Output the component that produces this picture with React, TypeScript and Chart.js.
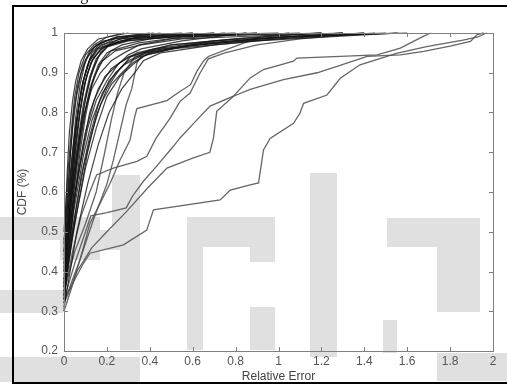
import React, { useEffect, useRef } from "react";
import { Chart, registerables } from "chart.js";

Chart.register(...registerables);

type P = [number, number];

const xTickLabels = ["0", "0.2", "0.4", "0.6", "0.8", "1", "1.2", "1.4", "1.6", "1.8", "2"];
const yTickLabels = ["0.2", "0.3", "0.4", "0.5", "0.6", "0.7", "0.8", "0.9", "1"];
const xAxisTitle = "Relative Error";
const yAxisTitle = "CDF (%)";
const captionFragment = "Fig";

// outlying curves
const curveA: P[] = [[0, 0.32], [0.04, 0.37], [0.075, 0.43], [0.12, 0.52], [0.153, 0.555], [0.215, 0.622], [0.261, 0.68], [0.308, 0.731], [0.33, 0.79], [0.34, 0.81], [0.48, 0.83], [0.53, 0.849], [0.59, 0.87], [0.62, 0.904], [0.65, 0.929], [0.673, 0.941], [0.775, 0.962], [0.915, 0.99], [1.05, 1]];
const curveB: P[] = [[0, 0.34], [0.04, 0.45], [0.08, 0.54], [0.12, 0.6], [0.152, 0.643], [0.23, 0.66], [0.34, 0.677], [0.386, 0.69], [0.43, 0.736], [0.495, 0.786], [0.541, 0.828], [0.588, 0.849], [0.635, 0.9], [0.673, 0.935], [0.75, 0.95], [0.9, 0.97], [1.1, 0.985], [1.4, 1]];
const curveC: P[] = [[0, 0.33], [0.05, 0.42], [0.1, 0.5], [0.125, 0.54], [0.2, 0.548], [0.29, 0.56], [0.32, 0.59], [0.37, 0.627], [0.43, 0.664], [0.51, 0.715], [0.541, 0.736], [0.6, 0.77], [0.681, 0.816], [0.79, 0.841], [0.868, 0.887], [0.93, 0.908], [1.07, 0.929], [1.086, 0.937], [1.46, 0.945], [1.568, 0.962], [1.677, 0.992], [1.71, 1]];
const curveD: P[] = [[0, 0.3], [0.06, 0.4], [0.13, 0.46], [0.2, 0.5], [0.29, 0.55], [0.39, 0.61], [0.48, 0.66], [0.6, 0.685], [0.68, 0.7], [0.697, 0.736], [0.712, 0.803], [0.79, 0.841], [0.868, 0.858], [1.023, 0.883], [1.18, 0.9], [1.273, 0.916], [1.413, 0.941], [1.568, 0.945], [1.677, 0.954], [1.8, 0.967], [1.895, 0.979], [1.926, 0.996], [1.957, 1]];
const curveE: P[] = [[0, 0.33], [0.05, 0.38], [0.09, 0.42], [0.121, 0.446], [0.277, 0.467], [0.386, 0.504], [0.417, 0.555], [0.728, 0.58], [0.775, 0.605], [0.868, 0.618], [0.907, 0.623], [0.93, 0.706], [0.961, 0.735], [1.07, 0.773], [1.1, 0.798], [1.117, 0.823], [1.226, 0.844], [1.288, 0.886], [1.38, 0.92], [1.55, 0.949], [1.69, 0.966], [1.86, 0.982], [1.93, 0.99], [1.97, 1]];
const curveM1: P[] = [[0, 0.32], [0.04, 0.38], [0.075, 0.43], [0.137, 0.53], [0.2, 0.62], [0.23, 0.68], [0.26, 0.75], [0.29, 0.82], [0.316, 0.86], [0.34, 0.925], [0.37, 0.95], [0.5, 0.97], [0.9, 0.99], [1.2, 1]];
const curveM2: P[] = [[0, 0.35], [0.05, 0.45], [0.1, 0.52], [0.15, 0.6], [0.19, 0.7], [0.22, 0.78], [0.25, 0.85], [0.28, 0.9], [0.33, 0.94], [0.45, 0.96], [0.8, 0.98], [1.3, 1]];

// dense bundle of curves near the origin
const clusterCurves: P[][] = [
  [[0, 0.45], [0.008, 0.55], [0.015, 0.65], [0.025, 0.75], [0.04, 0.83], [0.055, 0.88], [0.08, 0.93], [0.11, 0.96], [0.16, 0.985], [0.3, 1]],
  [[0, 0.4], [0.01, 0.5], [0.02, 0.6], [0.03, 0.7], [0.045, 0.8], [0.065, 0.87], [0.09, 0.92], [0.12, 0.955], [0.18, 0.98], [0.35, 0.995], [0.55, 1]],
  [[0, 0.36], [0.012, 0.48], [0.025, 0.6], [0.04, 0.7], [0.055, 0.79], [0.075, 0.87], [0.1, 0.93], [0.14, 0.965], [0.22, 0.985], [0.45, 1]],
  [[0, 0.33], [0.015, 0.46], [0.028, 0.57], [0.045, 0.69], [0.06, 0.78], [0.08, 0.86], [0.11, 0.92], [0.15, 0.96], [0.25, 0.99], [0.6, 1]],
  [[0, 0.5], [0.01, 0.58], [0.02, 0.66], [0.035, 0.76], [0.05, 0.84], [0.07, 0.9], [0.1, 0.945], [0.14, 0.97], [0.2, 0.99], [0.28, 1]],
  [[0, 0.42], [0.015, 0.52], [0.03, 0.63], [0.05, 0.74], [0.07, 0.82], [0.09, 0.88], [0.12, 0.93], [0.16, 0.96], [0.26, 0.985], [0.5, 0.995], [0.8, 1]],
  [[0, 0.3], [0.01, 0.4], [0.022, 0.52], [0.035, 0.63], [0.05, 0.73], [0.068, 0.81], [0.09, 0.88], [0.12, 0.935], [0.17, 0.97], [0.3, 0.99], [0.7, 1]],
  [[0, 0.38], [0.02, 0.5], [0.035, 0.6], [0.055, 0.71], [0.075, 0.8], [0.1, 0.88], [0.13, 0.93], [0.18, 0.965], [0.3, 0.985], [0.6, 0.995], [1.0, 1]],
  [[0, 0.47], [0.012, 0.56], [0.025, 0.66], [0.04, 0.76], [0.058, 0.84], [0.08, 0.9], [0.11, 0.94], [0.15, 0.97], [0.24, 0.99], [0.4, 1]],
  [[0, 0.35], [0.018, 0.47], [0.032, 0.58], [0.05, 0.69], [0.07, 0.79], [0.095, 0.87], [0.125, 0.925], [0.17, 0.96], [0.27, 0.98], [0.5, 0.99], [1.2, 1]],
  [[0, 0.44], [0.02, 0.55], [0.04, 0.66], [0.06, 0.75], [0.085, 0.84], [0.11, 0.9], [0.14, 0.94], [0.19, 0.965], [0.32, 0.985], [0.7, 1]],
  [[0, 0.32], [0.02, 0.44], [0.04, 0.57], [0.06, 0.68], [0.08, 0.77], [0.105, 0.85], [0.135, 0.91], [0.17, 0.95], [0.22, 0.975], [0.35, 0.99], [0.9, 1]],
  [[0, 0.41], [0.025, 0.53], [0.045, 0.64], [0.068, 0.74], [0.09, 0.82], [0.12, 0.89], [0.15, 0.935], [0.2, 0.965], [0.3, 0.98], [0.5, 0.99], [1.1, 1]],
  [[0, 0.37], [0.022, 0.5], [0.045, 0.62], [0.07, 0.73], [0.095, 0.82], [0.125, 0.89], [0.16, 0.94], [0.21, 0.97], [0.34, 0.99], [0.6, 1]],
  [[0, 0.48], [0.018, 0.58], [0.035, 0.68], [0.055, 0.77], [0.08, 0.85], [0.1, 0.9], [0.13, 0.95], [0.17, 0.975], [0.25, 0.99], [0.42, 1]],
  [[0, 0.34], [0.03, 0.48], [0.05, 0.59], [0.075, 0.7], [0.1, 0.79], [0.13, 0.87], [0.165, 0.92], [0.22, 0.955], [0.35, 0.975], [0.55, 0.99], [0.85, 1]],
  [[0, 0.39], [0.028, 0.52], [0.055, 0.64], [0.08, 0.74], [0.105, 0.82], [0.14, 0.89], [0.18, 0.93], [0.24, 0.955], [0.36, 0.97], [0.55, 0.985], [1.0, 0.995], [1.3, 1]],
  [[0, 0.43], [0.03, 0.56], [0.06, 0.68], [0.09, 0.78], [0.12, 0.86], [0.16, 0.92], [0.2, 0.95], [0.27, 0.97], [0.4, 0.985], [0.75, 1]],
  [[0, 0.36], [0.03, 0.5], [0.06, 0.62], [0.09, 0.72], [0.12, 0.8], [0.16, 0.86], [0.22, 0.91], [0.3, 0.94], [0.42, 0.96], [0.7, 0.98], [1.0, 0.99], [1.5, 1]],
  [[0, 0.4], [0.035, 0.54], [0.07, 0.66], [0.1, 0.75], [0.14, 0.83], [0.19, 0.89], [0.26, 0.925], [0.34, 0.95], [0.5, 0.97], [0.8, 0.985], [1.2, 1]],
  [[0, 0.33], [0.04, 0.5], [0.08, 0.64], [0.12, 0.74], [0.16, 0.82], [0.21, 0.88], [0.28, 0.92], [0.35, 0.94], [0.5, 0.96], [0.9, 0.98], [1.56, 1]],
  [[0, 0.38], [0.045, 0.55], [0.09, 0.69], [0.13, 0.78], [0.18, 0.85], [0.24, 0.9], [0.3, 0.93], [0.38, 0.95], [0.6, 0.97], [1.0, 0.99], [1.4, 1]],
  [[0, 0.35], [0.05, 0.52], [0.1, 0.66], [0.15, 0.76], [0.2, 0.84], [0.26, 0.89], [0.32, 0.92], [0.38, 0.945], [0.55, 0.965], [0.9, 0.985], [1.3, 1]],
  [[0, 0.31], [0.06, 0.5], [0.11, 0.62], [0.16, 0.72], [0.21, 0.8], [0.27, 0.86], [0.33, 0.9], [0.37, 0.93], [0.45, 0.95], [0.7, 0.97], [1.1, 0.99], [1.55, 1]],
  [[0, 0.42], [0.04, 0.56], [0.08, 0.68], [0.11, 0.76], [0.15, 0.83], [0.2, 0.88], [0.25, 0.92], [0.3, 0.945], [0.36, 0.96], [0.55, 0.98], [0.85, 1]],
  [[0, 0.37], [0.05, 0.54], [0.09, 0.66], [0.13, 0.75], [0.17, 0.82], [0.22, 0.87], [0.27, 0.9], [0.32, 0.925], [0.4, 0.95], [0.65, 0.975], [1.05, 0.99], [1.6, 1]],
  [[0, 0.45], [0.03, 0.58], [0.06, 0.7], [0.09, 0.79], [0.13, 0.86], [0.17, 0.9], [0.22, 0.93], [0.28, 0.95], [0.35, 0.97], [0.5, 0.985], [0.9, 1]],
  [[0, 0.34], [0.04, 0.49], [0.08, 0.61], [0.11, 0.7], [0.15, 0.79], [0.2, 0.86], [0.26, 0.91], [0.31, 0.94], [0.4, 0.955], [0.6, 0.97], [1.0, 0.985], [1.45, 1]],
];

const outlierCurves: P[][] = [curveA, curveB, curveC, curveD, curveE, curveM1, curveM2];

const decorPlugin = {
  id: "decor",
  beforeDraw(chart: any) {
    const ctx: CanvasRenderingContext2D = chart.ctx;
    ctx.save();
    ctx.fillStyle = "#e0e0e0";
    const shapes: number[][] = [
      [0, 217, 100, 23], [60, 240, 40, 20], [112, 175, 28, 62],
      [73, 230, 67, 20], [120, 250, 20, 100], [0, 290, 63, 23],
      [0, 357, 140, 25],
      [187, 217, 88, 30], [187, 247, 16, 103], [250, 247, 25, 15], [250, 307, 25, 43],
      [310, 173, 27, 184],
      [387, 218, 93, 29], [437, 247, 43, 65], [383, 320, 14, 33],
      [437, 353, 70, 28],
    ];
    for (const [x, y, w, h] of shapes) ctx.fillRect(x, y, w, h);
    ctx.restore();
  },
  afterDraw(chart: any) {
    const ctx: CanvasRenderingContext2D = chart.ctx;
    const { left, top, right, bottom } = chart.chartArea;
    const xs = chart.scales.x;
    const ys = chart.scales.y;
    ctx.save();
    ctx.strokeStyle = "#808080";
    ctx.lineWidth = 1;
    ctx.strokeRect(Math.round(left) + 0.5, Math.round(top) + 0.5, Math.round(right - left), Math.round(bottom - top));
    ctx.beginPath();
    const tl = 4;
    xs.ticks.forEach((t: any) => {
      const px = Math.round(xs.getPixelForValue(t.value)) + 0.5;
      ctx.moveTo(px, bottom); ctx.lineTo(px, bottom - tl);
      ctx.moveTo(px, top); ctx.lineTo(px, top + tl);
    });
    ys.ticks.forEach((t: any) => {
      const py = Math.round(ys.getPixelForValue(t.value)) + 0.5;
      ctx.moveTo(left, py); ctx.lineTo(left + tl, py);
      ctx.moveTo(right, py); ctx.lineTo(right - tl, py);
    });
    ctx.stroke();

    ctx.fillStyle = "#444";
    ctx.font = '12px "Liberation Sans", Arial, sans-serif';
    ctx.textAlign = "center";
    ctx.textBaseline = "middle";
    ctx.fillText(xAxisTitle, (left + right) / 2, 377);
    ctx.save();
    ctx.translate(23, (top + bottom) / 2);
    ctx.rotate(-Math.PI / 2);
    ctx.fillText(yAxisTitle, 0, 0);
    ctx.restore();

    ctx.strokeStyle = "#000";
    ctx.lineWidth = 2;
    ctx.strokeRect(13, 6, 500, 377);

    ctx.fillStyle = "#222";
    ctx.font = '16px "Liberation Serif", "Times New Roman", serif';
    ctx.textAlign = "left";
    ctx.textBaseline = "alphabetic";
    ctx.fillText(captionFragment, 67, 0);
    ctx.restore();
  },
};

export default function App() {
  const ref = useRef<HTMLCanvasElement | null>(null);
  useEffect(() => {
    document.body.style.margin = "0";
    if (!ref.current) return;
    const mk = (pts: P[], color: string, width: number) => ({
      data: pts.map(([x, y]) => ({ x, y })),
      borderColor: color,
      borderWidth: width,
      pointRadius: 0,
      fill: false,
      tension: 0,
      clip: 3,
    });
    const datasets = [
      ...clusterCurves.map((c) => mk(c, "rgba(20,20,20,0.8)", 1.2)),
      ...outlierCurves.map((c) => mk(c, "rgba(85,85,85,0.9)", 1.3)),
    ];
    const tickFont = { family: '"Liberation Sans", Arial, sans-serif', size: 12 };
    const chart = new Chart(ref.current, {
      type: "line",
      data: { datasets },
      options: {
        animation: false,
        responsive: false,
        maintainAspectRatio: false,
        layout: { padding: { left: 0, top: 33, right: 14, bottom: 0 } },
        plugins: { legend: { display: false }, tooltip: { enabled: false } },
        scales: {
          x: {
            type: "linear",
            min: 0,
            max: 2,
            grid: { display: false, drawTicks: false },
            border: { display: false },
            ticks: {
              stepSize: 0.2,
              autoSkip: false,
              maxRotation: 0,
              padding: 3,
              color: "#555",
              font: tickFont,
              callback: (_v: any, i: number) => xTickLabels[i],
            },
            afterFit: (s: any) => { s.height = 34; },
          },
          y: {
            type: "linear",
            min: 0.2,
            max: 1,
            grid: { display: false, drawTicks: false },
            border: { display: false },
            ticks: {
              stepSize: 0.1,
              autoSkip: false,
              padding: 6,
              color: "#555",
              font: tickFont,
              callback: (_v: any, i: number) => yTickLabels[i],
            },
            afterFit: (s: any) => { s.width = 64; },
          },
        },
      } as any,
      plugins: [decorPlugin],
    });
    return () => chart.destroy();
  }, []);
  return <canvas ref={ref} width={507} height={385} style={{ display: "block" }} />;
}
